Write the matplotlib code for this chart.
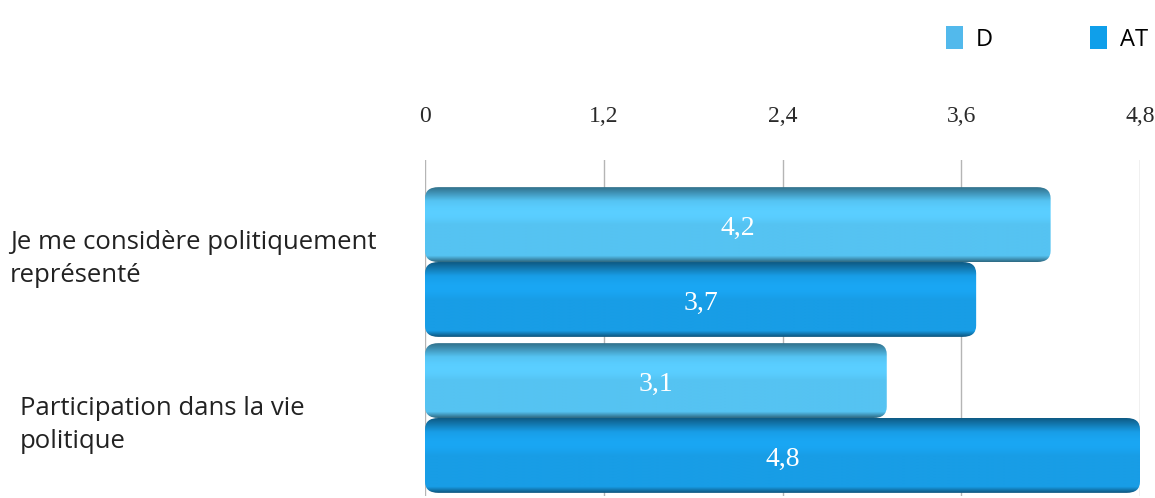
import numpy as np
import matplotlib.pyplot as plt
from matplotlib.patches import Patch, FancyBboxPatch
from matplotlib.colors import to_rgb

## Data

categories = ["Je me considère politiquement\nreprésenté", "Participation dans la vie\npolitique"]
series_names = ["D", "AT"]
values_D = [4.2, 3.1]
values_AT = [3.7, 4.8]
tick_values = [0, 1.2, 2.4, 3.6, 4.8]
tick_labels = ["0", "1,2", "2,4", "3,6", "4,8"]

colors = {"D": "#55c3f2", "AT": "#189de6"}
legend_colors = {"D": "#52b9ec", "AT": "#0f9fea"}


def fmt(v):
    return ("%.1f" % v).replace(".", ",")


def shade(c, f):
    r, g, b = to_rgb(c)
    return (r * f, g * f, b * f)


def bar_gradient(base):
    # vertical profile: dark rim on top, body, thin dark lip at the bottom
    t = np.linspace(0, 1, 100)
    fac = np.ones_like(t)
    fac = np.where(t < 0.18, 0.58 + 0.42 * (t / 0.18), fac)
    fac = np.where((t >= 0.18) & (t < 0.5), 1.0 + 0.06 * np.sin((t - 0.18) / 0.32 * np.pi), fac)
    fac = np.where(t > 0.92, 1.0 - 0.45 * (t - 0.92) / 0.08, fac)
    rgb = np.array([np.clip(shade(base, f), 0, 1) for f in fac])
    return rgb[:, None, :]


fig = plt.figure(figsize=(11.55, 4.98), dpi=100)
ax = fig.add_axes([425 / 1155, 2 / 498, 715 / 1155, 336 / 498])

y = np.arange(len(categories))
h = 0.48
bars_D = ax.barh(y - h / 2, values_D, height=h, color="none", edgecolor="none")
bars_AT = ax.barh(y + h / 2, values_AT, height=h, color="none", edgecolor="none")

for bars, name in [(bars_D, "D"), (bars_AT, "AT")]:
    grad = bar_gradient(colors[name])
    for rect in bars:
        x0, y0 = rect.get_x(), rect.get_y()
        w, hh = rect.get_width(), rect.get_height()
        box = FancyBboxPatch((x0, y0), w, hh,
                             boxstyle="round,pad=0,rounding_size=0.09",
                             mutation_aspect=0.8,
                             facecolor="none", edgecolor="none", zorder=3)
        ax.add_patch(box)
        im = ax.imshow(grad, extent=[x0, x0 + w, y0 + hh, y0], aspect="auto",
                       zorder=3, interpolation="bilinear")
        im.set_clip_path(box)
        ax.text(x0 + w / 2, y0 + hh * 0.55, fmt(w), ha="center", va="center",
                color="white", fontsize=20, family="Liberation Serif", zorder=4)

ax.set_xlim(0, 4.8)
ax.set_ylim(1.5, -0.654)
ax.set_aspect("auto")

ax.xaxis.tick_top()
ax.set_xticks(tick_values)
ax.set_xticklabels(tick_labels, family="Liberation Serif", fontsize=17, color="#2a2a2a")
ax.tick_params(axis="x", length=0, pad=24)
ax.set_yticks([])
ax.grid(axis="x", color="#b5b5b5", linewidth=1)
ax.set_axisbelow(True)
for s in ax.spines.values():
    s.set_visible(False)

# category labels on the left
fig.text(10 / 1155, 1 - 259 / 498, categories[0], ha="left", va="center",
         fontsize=18.5, family="Open Sans", color="#222222", linespacing=1.42)
fig.text(20 / 1155, 1 - 425 / 498, categories[1], ha="left", va="center",
         fontsize=18.5, family="Open Sans", color="#222222", linespacing=1.42)

handles = [Patch(facecolor=legend_colors[n], edgecolor="none") for n in series_names]
fig.legend(handles, series_names, loc="upper right", bbox_to_anchor=(1.0125, 0.99),
           ncol=2, frameon=False, prop={"family": "Open Sans", "size": 17},
           handlelength=0.72, handleheight=1.1, handletextpad=0.55, columnspacing=4.1)

fig.savefig("out.png", dpi=100, facecolor="white")
